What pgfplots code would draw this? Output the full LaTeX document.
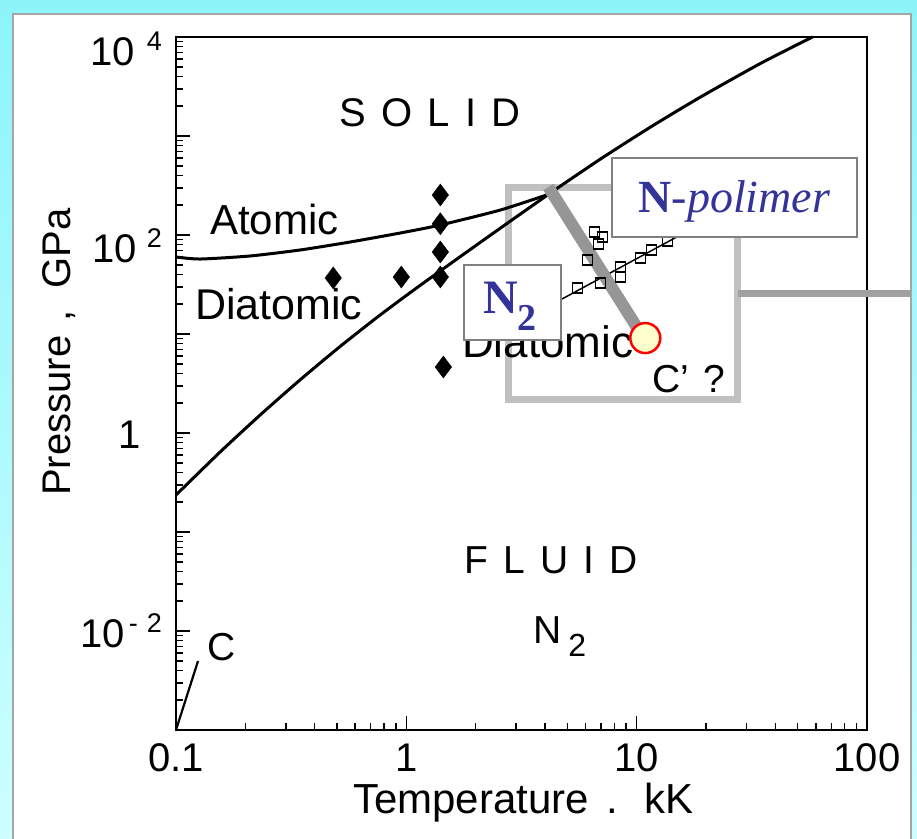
\documentclass[border=0pt]{standalone}
\usepackage{pgfplots}
\pgfplotsset{compat=1.18}
\usepackage{fontspec}
\setmainfont{Liberation Sans}
\newfontfamily\seriffont{Liberation Serif}
\definecolor{cyanA}{RGB}{140,245,250}
\definecolor{cyanB}{RGB}{205,255,255}
\definecolor{boxgray}{RGB}{192,192,192}
\definecolor{linegray}{RGB}{150,150,150}
\definecolor{hgray}{RGB}{160,160,160}
\definecolor{navy}{RGB}{51,51,153}
\definecolor{ylw}{RGB}{255,255,204}
\newcommand{\fs}[1]{\fontsize{#1}{#1}\selectfont}
\begin{document}
\begin{tikzpicture}[x=1pt,y=1pt]
\useasboundingbox (0,0) rectangle (917,838);
\shade[top color=cyanA,bottom color=cyanB] (0,0) rectangle (917,838);
\fill[white] (13,-5) rectangle (911,824);
\draw[gray!70,line width=1.5] (13,-5) -- (13,824) -- (911,824) -- (911,-5);

\begin{axis}[
  at={(176pt,108pt)}, anchor=south west,
  scale only axis, width=691pt, height=693pt,
  xmode=log, ymode=log,
  xmin=0.1, xmax=100, ymin=1e-3, ymax=1e4,
  clip=false,
  axis line style={line width=2.2pt},
  xtick={0.1,1,10,100},
  xticklabels={0.1,1,10,100},
  ytick={1e-3,1e-2,1e-1,1,10,100,1000,10000},
  yticklabels={{},
    {\raisebox{11pt}{10\hspace{4pt}\raisebox{15pt}{\fs{27}-\hspace{9pt}2}}},
    {},
    {\raisebox{12pt}{1}\rule{21pt}{0pt}},
    {},
    {10\hspace{10pt}\raisebox{15pt}{\fs{27}2}},
    {},
    {\raisebox{-2pt}{10\hspace{12pt}\raisebox{15pt}{\fs{27}4}}}},
  minor xtick={0.2,0.3,0.4,0.5,0.6,0.7,0.8,0.9,2,3,4,5,6,7,8,9,20,30,40,50,60,70,80,90},
  minor ytick={0.002,0.003,0.004,0.005,0.006,0.007,0.008,0.009,
               0.02,0.03,0.04,0.05,0.06,0.07,0.08,0.09,
               0.2,0.3,0.4,0.5,0.6,0.7,0.8,0.9,
               2,3,4,5,6,7,8,9,
               20,30,40,50,60,70,80,90,
               200,300,400,500,600,700,800,900,
               2000,3000,4000,5000,6000,7000,8000,9000},
  xtick pos=bottom, ytick pos=left,
  tick align=inside,
  major tick length=14pt, minor tick length=7pt,
  tick style={black, line width=1.6pt},
  ticklabel style={font=\fs{40}, inner sep=0pt},
  xticklabel style={anchor=base, yshift=-41pt},
  yticklabel style={anchor=base east, xshift=-14pt, yshift=-27pt},
]
% grey frame around the polymer region
\addplot[boxgray, line width=7pt, line cap=rect, line join=miter] coordinates {
  (2.777,305) (27.5,305) (27.5,2.2) (2.777,2.2) (2.777,305)};
% melting line
\addplot[black, line width=3pt, smooth, tension=0.4] coordinates {
  (0.1,0.2365) (0.1553,0.6415) (0.2318,1.518) (0.346,3.446) (0.5163,7.494)
  (0.7706,15.59) (1.151,31.11) (2.097,84.4) (4.143,257.7) (6.975,586.4)
  (11.50,1233) (18.98,2483) (34.60,5430) (58.0,10000)};
% atomic / diatomic solid boundary
\addplot[black, line width=3pt, smooth, tension=0.4] coordinates {
  (0.1,59.95) (0.1272,57.2) (0.2098,61.4) (0.346,70.6) (0.5707,85.0)
  (0.9417,104.8) (1.405,126.2) (2.563,178.9) (4.143,257.7)};
% C line
\addplot[black, line width=2.2pt] coordinates {(0.1,0.001) (0.1246,0.00497)};
% diamonds
\addplot[only marks, mark=diamond*, mark size=11, black] coordinates {
  (1.405,253.6) (1.405,130) (1.405,67.3) (1.405,37.65)
  (0.4816,36.8) (0.951,37.65) (1.448,4.64)};
% squares and fit line
\addplot[black, line width=1.5pt] coordinates {(3.82,17.2) (15.2,97.7)};
\addplot[only marks, mark=square, mark size=5, mark options={line width=1.5pt, fill=white}, black] coordinates {
  (5.54,29.1) (6.97,32.7) (6.12,55.9) (6.57,107.2) (7.11,95.4) (6.84,81.1)
  (8.52,47.5) (8.52,37.65) (10.41,58.6) (11.62,70.6) (13.64,87.0)};
% diagonal and horizontal grey lines
\addplot[linegray, line width=12pt] coordinates {(4.14,305) (10.4,10.2)};
\addplot[hgray, line width=7pt] coordinates {(27.5,25.9) (155,25.9)};
% second Diatomic label
\node[anchor=base west, font=\fs{44}, inner sep=0] at (rel axis cs:0.4139,0.5368) {Diatomic};
% C' point
\addplot[only marks, mark=*, mark size=15, mark options={fill=ylw, draw=red, line width=2.5pt}] coordinates {(10.9,9.1)};
\end{axis}

% labels inside plot
\node[anchor=base, font=\fs{40}, inner sep=0] at (430,711) {S\hspace{15pt}O\hspace{15pt}L\hspace{15pt}I\hspace{15pt}D};
\node[anchor=base west, font=\fs{42}, inner sep=0] at (210,603) {Atomic};
\node[anchor=base west, font=\fs{43}, inner sep=0] at (195,518) {Diatomic};
\node[anchor=base west, font=\fs{39}, inner sep=0] at (652,445) {C'\hspace{4pt} ?};
\node[anchor=base, font=\fs{39}, inner sep=0] at (551,265) {F\hspace{15pt}L\hspace{15pt}U\hspace{15pt}I\hspace{15pt}D};
\node[anchor=base west, font=\fs{39}, inner sep=0] at (533,195) {N\hspace{7pt}\raisebox{-13pt}{\fs{32}2}};
\node[anchor=base west, font=\fs{39}, inner sep=0] at (207,178) {C};
% axis titles
\node[anchor=base west, font=\fs{42}, inner sep=0] at (353,25) {Temperature\hspace{18pt}.\hspace{26pt}kK};
\node[rotate=90, anchor=base west, font=\fs{40}, inner sep=0] at (70,342) {Pressure\hspace{14pt},\hspace{22pt}GPa};
% N-polimer box
\draw[fill=white, draw=gray, line width=1.5] (612,601) rectangle (857,680);
\node[anchor=base, font=\seriffont\fs{46}, text=navy, inner sep=0] at (734.5,625) {\textbf{N}-\textit{polimer}};
% N2 box
\draw[fill=white, draw=gray, line width=1.5] (464,498) rectangle (561,573);
\node[anchor=base west, font=\seriffont\bfseries\fs{48}, text=navy, inner sep=0] at (483,524) {N\raisebox{-17pt}{\fs{38}2}};
\end{tikzpicture}
\end{document}
